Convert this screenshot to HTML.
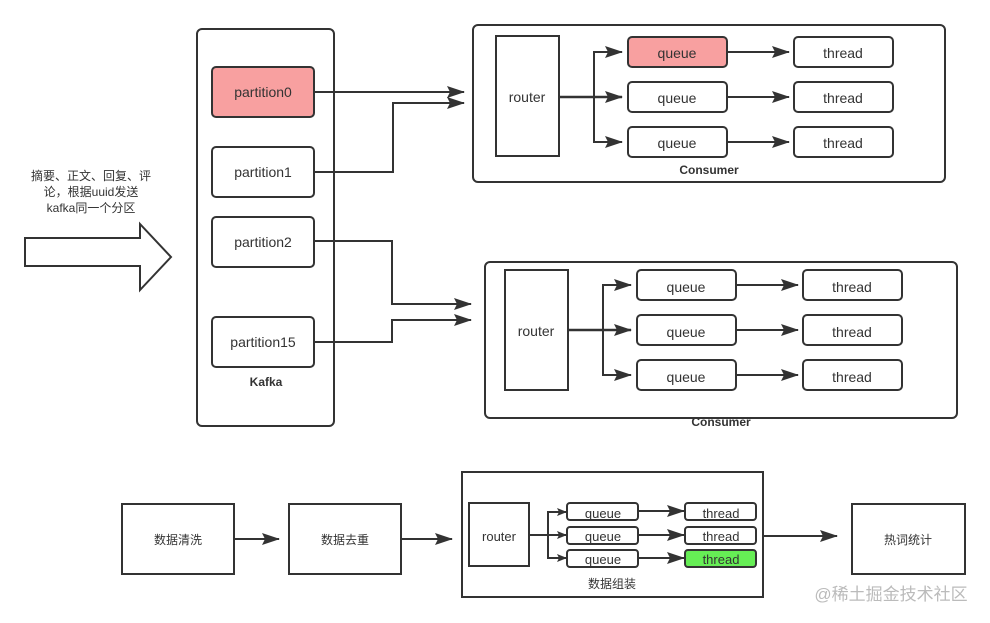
<!DOCTYPE html>
<html><head><meta charset="utf-8"><style>
html,body{margin:0;padding:0;background:#fff;}
svg{display:block;}
text{font-family:"Liberation Sans","Noto Sans CJK SC",sans-serif;fill:#333;}
</style></head><body>
<svg width="990" height="623" viewBox="0 0 990 623" xmlns="http://www.w3.org/2000/svg">
<defs>
<marker id="a" markerWidth="10" markerHeight="8" refX="9" refY="4" orient="auto" markerUnits="userSpaceOnUse" viewBox="0 0 10 8">
<path d="M0,0 L10,4 L0,8 L2,4 z" fill="#333"/></marker>
<marker id="b" markerWidth="18" markerHeight="12" refX="17" refY="6" orient="auto" markerUnits="userSpaceOnUse" viewBox="0 0 18 12">
<path d="M0,0 L18,6 L0,12 L3,6 z" fill="#333"/></marker>
</defs>
<g fill="none" stroke="#333" stroke-width="2">
<rect x="197" y="29" width="137" height="397" rx="5" fill="#fff"/>
<rect x="212" y="67" width="102" height="50" rx="4" fill="#f8a0a0"/>
<rect x="212" y="147" width="102" height="50" rx="4" fill="#fff"/>
<rect x="212" y="217" width="102" height="50" rx="4" fill="#fff"/>
<rect x="212" y="317" width="102" height="50" rx="4" fill="#fff"/>
<path d="M25,238 L140,238 L140,224 L171,257 L140,290 L140,266 L25,266 Z" fill="#fff"/>
<rect x="473" y="25" width="472" height="157" rx="5" fill="#fff"/>
<rect x="496" y="36" width="63" height="120" fill="#fff"/>
<rect x="628" y="37" width="99" height="30" rx="4" fill="#f8a0a0"/>
<rect x="628" y="82" width="99" height="30" rx="4" fill="#fff"/>
<rect x="628" y="127" width="99" height="30" rx="4" fill="#fff"/>
<rect x="794" y="37" width="99" height="30" rx="4" fill="#fff"/>
<rect x="794" y="82" width="99" height="30" rx="4" fill="#fff"/>
<rect x="794" y="127" width="99" height="30" rx="4" fill="#fff"/>
<rect x="485" y="262" width="472" height="156" rx="5" fill="#fff"/>
<rect x="505" y="270" width="63" height="120" fill="#fff"/>
<rect x="637" y="270" width="99" height="30" rx="4" fill="#fff"/>
<rect x="637" y="315" width="99" height="30" rx="4" fill="#fff"/>
<rect x="637" y="360" width="99" height="30" rx="4" fill="#fff"/>
<rect x="803" y="270" width="99" height="30" rx="4" fill="#fff"/>
<rect x="803" y="315" width="99" height="30" rx="4" fill="#fff"/>
<rect x="803" y="360" width="99" height="30" rx="4" fill="#fff"/>
<rect x="122" y="504" width="112" height="70" fill="#fff"/>
<rect x="289" y="504" width="112" height="70" fill="#fff"/>
<rect x="462" y="472" width="301" height="125" fill="#fff"/>
<rect x="469" y="503" width="60" height="63" fill="#fff"/>
<rect x="567" y="503" width="71" height="17" rx="3" fill="#fff"/>
<rect x="567" y="527" width="71" height="17" rx="3" fill="#fff"/>
<rect x="567" y="550" width="71" height="17" rx="3" fill="#fff"/>
<rect x="685" y="503" width="71" height="17" rx="3" fill="#fff"/>
<rect x="685" y="527" width="71" height="17" rx="3" fill="#fff"/>
<rect x="685" y="550" width="71" height="17" rx="3" fill="#66ee55"/>
<rect x="852" y="504" width="113" height="70" fill="#fff"/>
</g>
<g fill="none" stroke="#333" stroke-width="2">
<path d="M314,92 L464,92" marker-end="url(#b)"/>
<path d="M314,172 L393,172 L393,103 L464,103" marker-end="url(#b)"/>
<path d="M314,241 L392,241 L392,304 L471,304" marker-end="url(#b)"/>
<path d="M314,342 L392,342 L392,320 L471,320" marker-end="url(#b)"/>
<path d="M559,97 L622,97" marker-end="url(#b)" stroke-width="2.5"/>
<path d="M594,97 L594,52 L622,52" marker-end="url(#b)"/>
<path d="M594,97 L594,142 L622,142" marker-end="url(#b)"/>
<path d="M727,52 L789,52" marker-end="url(#b)"/>
<path d="M727,97 L789,97" marker-end="url(#b)"/>
<path d="M727,142 L789,142" marker-end="url(#b)"/>
<path d="M568,330 L631,330" marker-end="url(#b)" stroke-width="2.5"/>
<path d="M603,330 L603,285 L631,285" marker-end="url(#b)"/>
<path d="M603,330 L603,375 L631,375" marker-end="url(#b)"/>
<path d="M736,285 L798,285" marker-end="url(#b)"/>
<path d="M736,330 L798,330" marker-end="url(#b)"/>
<path d="M736,375 L798,375" marker-end="url(#b)"/>
<path d="M234,539 L279,539" marker-end="url(#b)"/>
<path d="M401,539 L452,539" marker-end="url(#b)"/>
<path d="M529,535 L566,535" marker-end="url(#a)"/>
<path d="M548,535 L548,512 L566,512" marker-end="url(#a)"/>
<path d="M548,535 L548,558 L566,558" marker-end="url(#a)"/>
<path d="M638,511 L684,511" marker-end="url(#b)"/>
<path d="M638,535 L684,535" marker-end="url(#b)"/>
<path d="M638,558 L684,558" marker-end="url(#b)"/>
<path d="M763,536 L837,536" marker-end="url(#b)"/>
</g>
<g font-size="14" text-anchor="middle">
<text x="263" y="97">partition0</text>
<text x="263" y="177">partition1</text>
<text x="263" y="247">partition2</text>
<text x="263" y="347">partition15</text>
<text x="266" y="386" font-weight="bold" font-size="12">Kafka</text>
<text x="91" y="180" font-size="12">摘要、正文、回复、评</text>
<text x="91" y="196" font-size="12">论，根据uuid发送</text>
<text x="91" y="212" font-size="12">kafka同一个分区</text>
<text x="527" y="102">router</text>
<text x="677" y="58">queue</text>
<text x="677" y="103">queue</text>
<text x="677" y="148">queue</text>
<text x="843" y="58">thread</text>
<text x="843" y="103">thread</text>
<text x="843" y="148">thread</text>
<text x="709" y="174" font-weight="bold" font-size="12">Consumer</text>
<text x="536" y="336">router</text>
<text x="686" y="292">queue</text>
<text x="686" y="337">queue</text>
<text x="686" y="382">queue</text>
<text x="852" y="292">thread</text>
<text x="852" y="337">thread</text>
<text x="852" y="382">thread</text>
<text x="721" y="426" font-weight="bold" font-size="12">Consumer</text>
<text x="178" y="544" font-size="12">数据清洗</text>
<text x="345" y="544" font-size="12">数据去重</text>
<text x="499" y="541" font-size="13">router</text>
<text x="603" y="518" font-size="13">queue</text>
<text x="603" y="541" font-size="13">queue</text>
<text x="603" y="564" font-size="13">queue</text>
<text x="721" y="518" font-size="13">thread</text>
<text x="721" y="541" font-size="13">thread</text>
<text x="721" y="564" font-size="13">thread</text>
<text x="612" y="588" font-size="12">数据组装</text>
<text x="908" y="544" font-size="12">热词统计</text>
<text x="891" y="600" font-size="17" style="fill:#bbb">@稀土掘金技术社区</text>
</g>
</svg>
</body></html>
